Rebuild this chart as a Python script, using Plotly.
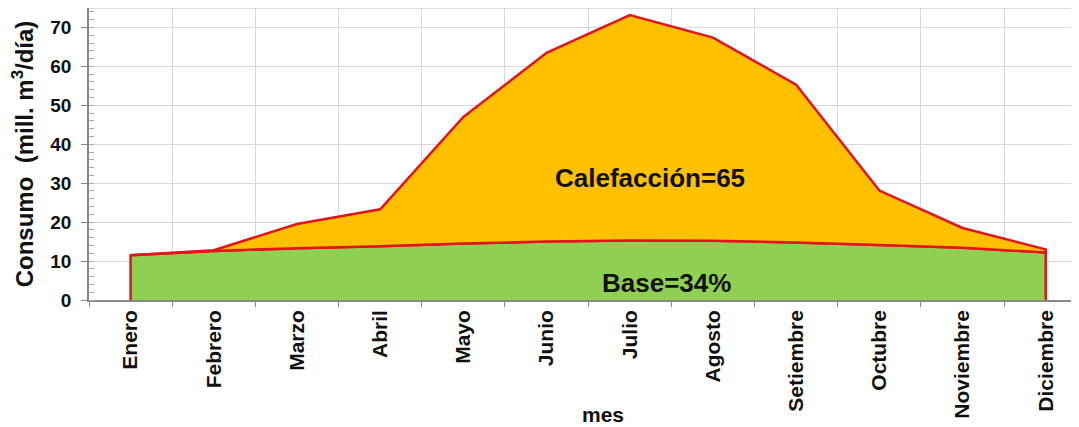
import plotly.graph_objects as go

# ---------------------------------------------------------------------------
# Data
# ---------------------------------------------------------------------------
meses = ["Enero", "Febrero", "Marzo", "Abril", "Mayo", "Junio", "Julio",
         "Agosto", "Setiembre", "Octubre", "Noviembre", "Diciembre"]
consumo_total = [11.5, 12.8, 19.5, 23.3, 47.0, 63.5, 73.2, 67.4, 55.3, 28.1, 18.5, 13.0]
consumo_base = [11.5, 12.6, 13.3, 13.8, 14.5, 15.0, 15.3, 15.2, 14.8, 14.1, 13.4, 12.2]

ROJO = "#E3141B"
NARANJA = "#FFC000"
VERDE = "#8FD052"
FONT = "Liberation Sans, Arial, sans-serif"

fig = go.Figure()

# Base (green) area, closed down to zero
fig.add_trace(go.Scatter(
    x=[meses[0]] + meses + [meses[-1]],
    y=[0] + consumo_base + [0],
    fill="toself",
    fillcolor=VERDE,
    mode="lines",
    line=dict(color=ROJO, width=2.5),
    hoverinfo="skip",
    showlegend=False,
))

# Heating (orange) area between base and total
fig.add_trace(go.Scatter(
    x=meses + meses[::-1],
    y=consumo_total + consumo_base[::-1],
    fill="toself",
    fillcolor=NARANJA,
    mode="lines",
    line=dict(color=ROJO, width=2.5),
    hoverinfo="skip",
    showlegend=False,
))

fig.add_annotation(x=6.24, y=31.3, text="<b>Calefacción=65</b>", showarrow=False,
                   font=dict(family=FONT, size=26, color="#111111"))
fig.add_annotation(x=6.44, y=4.4, text="<b>Base=34%</b>", showarrow=False,
                   font=dict(family=FONT, size=26, color="#111111"))
fig.add_annotation(x=0.519, y=-0.438, xref="paper", yref="paper", text="<b>mes</b>",
                   showarrow=False, font=dict(family=FONT, size=21, color="#111111"))

# light frame line along the top of the plot area
fig.add_shape(type="line", xref="paper", yref="paper", x0=0, x1=1, y0=1, y1=1,
              line=dict(color="#D0D0D0", width=1.5))

fig.update_xaxes(
    type="category",
    categoryorder="array",
    categoryarray=meses,
    range=[-0.5, 11.4],
    tickson="boundaries",
    ticks="outside",
    ticklen=5,
    tickcolor="#888888",
    tickangle=-90,
    tickfont=dict(family=FONT, size=21, color="#111111", weight="bold"),
    showgrid=True,
    gridcolor="#D9D9D9",
    showline=True,
    linecolor="#888888",
    linewidth=1.5,
    zeroline=False,
    automargin=False,
)
fig.update_yaxes(
    range=[0, 75],
    tickvals=[0, 10, 20, 30, 40, 50, 60, 70],
    ticks="outside",
    ticklen=6,
    tickcolor="#888888",
    ticklabelstandoff=6,
    minor=dict(dtick=2, ticks="inside", ticklen=5, tickcolor="#AAAAAA", showgrid=False),
    tickfont=dict(family=FONT, size=19, color="#111111", weight="bold"),
    showgrid=True,
    gridcolor="#D9D9D9",
    showline=True,
    linecolor="#888888",
    linewidth=1.5,
    zeroline=False,
    automargin=False,
    title=dict(text="<b>Consumo  (mill. m<sup>3</sup>/día)</b>",
               font=dict(family=FONT, size=24, color="#111111"), standoff=16),
)

fig.update_layout(
    width=1071,
    height=419,
    margin=dict(l=81, r=0, t=0, b=127),
    plot_bgcolor="white",
    paper_bgcolor="white",
)

fig.write_html("out.html")
